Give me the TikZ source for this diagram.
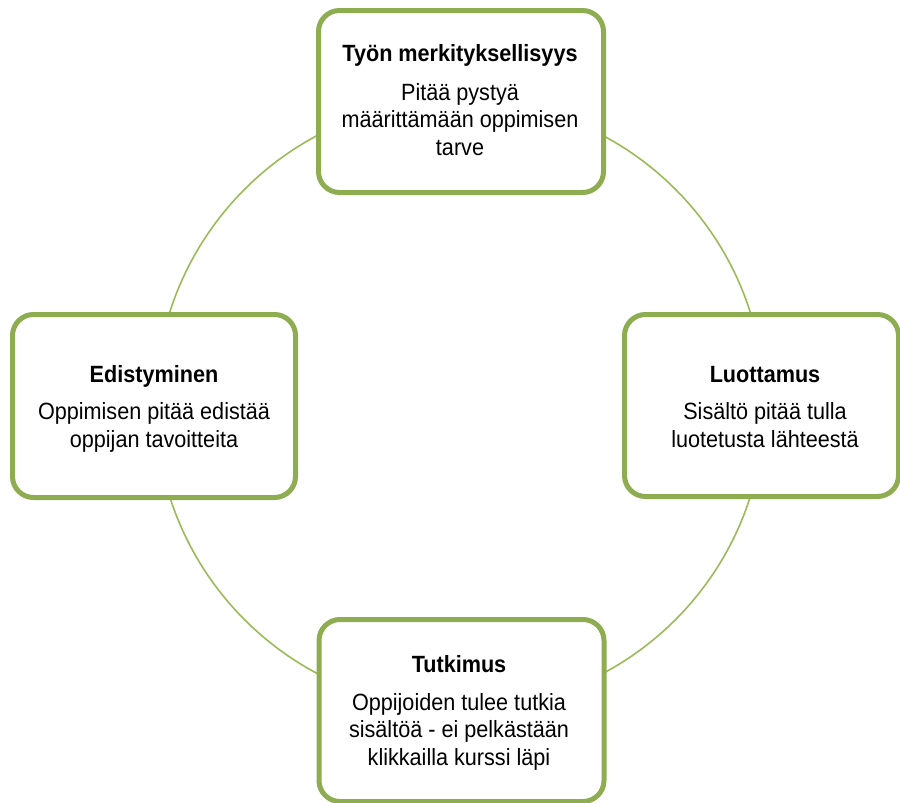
\documentclass[tikz,border=0pt]{standalone}
\usepackage{fontspec}
\setmainfont[FakeStretch=0.92]{Liberation Sans}
\definecolor{cardline}{RGB}{142,172,80}
\definecolor{ringline}{RGB}{155,187,89}
\begin{document}
\begin{tikzpicture}[x=1pt,y=-1pt,
  card/.style={draw=cardline, line width=5pt, fill=white, rounded corners=21pt,
    minimum width=285pt, minimum height=182pt, inner sep=0pt},
  ring/.style={draw=ringline, line width=1.6pt},
  ttl/.style={inner sep=0pt, anchor=base, font=\fontsize{23.5}{27.5}\selectfont\bfseries},
  txt/.style={inner sep=0pt, anchor=base, align=center, font=\fontsize{23.5}{27.5}\selectfont}]
  \useasboundingbox (0,0) rectangle (900,803);
  % ring behind the four cards
  \coordinate (hub) at (460,404.5);
  \draw[ring] (hub) circle[radius=304.5pt];
  % cards
  \node[card] (top) at (461,101.5) {};
  \node[card, minimum width=283pt, minimum height=183pt] (left) at (154,406) {};
  \node[card, minimum width=274pt] (right) at (761.5,405.5) {};
  \node[card] (bottom) at (461.5,710.5) {};
  % texts (body nodes sit on the baseline of their last line)
  \node[ttl] (topT) at (460,61.7) {Työn merkityksellisyys};
  \node[txt] (topB) at (460,155) {Pitää pystyä\\määrittämään oppimisen\\tarve};
  \node[ttl] (leftT) at (154,382) {Edistyminen};
  \node[txt] (leftB) at (154,447) {Oppimisen pitää edistää\\oppijan tavoitteita};
  \node[ttl] (rightT) at (765,382) {Luottamus};
  \node[txt] (rightB) at (765,447) {Sisältö pitää tulla\\luotetusta lähteestä};
  \node[ttl] (bottomT) at (459,672) {Tutkimus};
  \node[txt] (bottomB) at (459,765) {Oppijoiden tulee tutkia\\sisältöä - ei pelkästään\\klikkailla kurssi läpi};
\end{tikzpicture}
\end{document}
